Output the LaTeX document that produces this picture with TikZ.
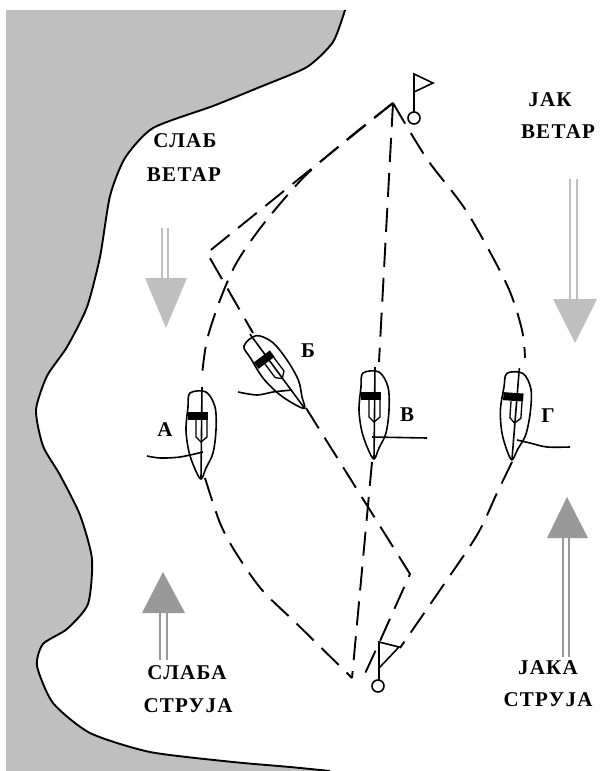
\documentclass[tikz,border=0pt]{standalone}
\usepackage{fontspec}
\setmainfont{Liberation Serif}
\newfontfamily\spacedfont[LetterSpace=6]{Liberation Serif}
\usetikzlibrary{positioning}

\begin{document}
\begin{tikzpicture}[x=1pt,y=-1pt,
  course/.style={line width=1.9pt, dash pattern=on 24pt off 11pt},
  coast/.style={line width=1.9pt},
  sketch/.style={line width=1.6pt},
  txt/.style={font=\spacedfont\bfseries\fontsize{21}{24}\selectfont, inner sep=0pt},
  boat/.pic={
    \draw[sketch] plot[smooth cycle, tension=0.55] coordinates {(-11,-42) (5,-43) (14,-28) (15,-5) (12,18) (5,33) (0,44) (-6,34) (-12,17) (-15,-5) (-13,-28)};
    \draw[sketch] (1,-48) -- (0,44);
    \fill (-13,-23) rectangle (7,-15);
    \draw[line width=1.3pt] (-5,-15) -- (-5,2) -- (0,7) -- (6,2) -- (6,-15);
  }]
  \useasboundingbox (0,0) rectangle (600,771);

  % Shore on the left
  \fill[gray!50] (6,771) -- (6,10) -- plot[smooth, tension=0.4] coordinates {(345,10) (333,42) (307,67) (260,87) (213,106) (153,128) (125,158) (110,196) (100,257) (87,307) (67,347) (47,376) (36,410) (43,446) (60,475) (80,515) (92,559) (88,604) (67,629) (43,644) (37,666) (53,703) (90,733) (150,752) (233,762) (290,767) (330,771)} -- cycle;
  \draw[coast] plot[smooth, tension=0.4] coordinates {(345,10) (333,42) (307,67) (260,87) (213,106) (153,128) (125,158) (110,196) (100,257) (87,307) (67,347) (47,376) (36,410) (43,446) (60,475) (80,515) (92,559) (88,604) (67,629) (43,644) (37,666) (53,703) (90,733) (150,752) (233,762) (290,767) (330,771)};

  % Marks
  \coordinate (top) at (393,103);
  \coordinate (bottom) at (352,678);
  \draw[sketch] (414,112) -- (414,74) -- (433,83) -- (414,92);
  \draw[sketch] (414,118) circle (6);
  \draw[sketch] (379,680) -- (379,642) -- (399,647) -- (379,668);
  \draw[sketch] (378,686) circle (6);

  % Boats
  \pic (boatA) at (201,435) {boat};
  \pic[rotate=37] (boatB) at (278,373) {boat};
  \pic (boatV) at (374,415) {boat};
  \pic[rotate=-4] (boatG) at (515,416) {boat};

  % Wakes
  \draw[sketch] plot[smooth] coordinates {(147,456) (160,458) (180,457) (203,452)};
  \draw[sketch] plot[smooth] coordinates {(238,392) (257,395) (273,392) (292,390)};
  \draw[sketch] (372,437) -- (427,438);
  \draw[sketch] plot[smooth] coordinates {(517,440) (530,443) (547,447) (570,447)};

  % Courses
  \draw[course] plot[smooth] coordinates {(top) (350,137) (305,176) (265,222) (237,262) (220,300) (207,340) (202,375)};
  \draw[course] plot[smooth] coordinates {(205,478) (220,523) (236,553) (262,590) (297,624) (bottom)};
  \draw[course] (top) -- (207,253) -- (253,333);
  \draw[course] (306,408) -- (410,574) -- (380,641) -- (362,680);
  \draw[course] (top) -- (379,362);
  \draw[course] (372,462) -- (bottom);
  \draw[course] plot[smooth] coordinates {(top) (427,159) (467,212) (507,285) (522,330) (525,358)};
  \draw[course] plot[smooth] coordinates {(512,462) (497,493) (477,535) (440,590) (400,648)};

  % Wind and current arrows
  \draw[gray!50, line width=1.2pt] (162,228) -- (162,280) (168,228) -- (168,280);
  \fill[gray!50] (145,278) -- (187,278) -- (166,328) -- cycle;
  \draw[gray!50, line width=1.2pt] (570,179) -- (570,300) (577,179) -- (577,300);
  \fill[gray!50] (553,299) -- (597,299) -- (575,343) -- cycle;
  \draw[gray!80, line width=1.2pt] (160,612) -- (160,660) (167,612) -- (167,660);
  \fill[gray!80] (142,613) -- (185,613) -- (163,572) -- cycle;
  \draw[gray!80, line width=1.2pt] (563,537) -- (563,657) (569,537) -- (569,657);
  \fill[gray!80] (547,538) -- (588,538) -- (567,497) -- cycle;

  % Labels
  \node[txt] (weak1) at (185,141) {СЛАБ};
  \node[txt] (weak2) at (184,175) {ВЕТАР};
  \node[txt] (strong1) at (550,100) {ЈАК};
  \node[txt] (strong2) at (558,132) {ВЕТАР};
  \node[txt] (weakc1) at (187,673) {СЛАБА};
  \node[txt] (weakc2) at (188,706) {СТРУЈА};
  \node[txt] (strongc1) at (548,668) {ЈАКА};
  \node[txt] (strongc2) at (548,700) {СТРУЈА};
  \node[txt] (labelA) at (165,430) {А};
  \node[txt] (labelB) at (308,351) {Б};
  \node[txt] (labelV) at (407,415) {В};
  \node[txt] (labelG) at (548,416) {Г};
\end{tikzpicture}
\end{document}
